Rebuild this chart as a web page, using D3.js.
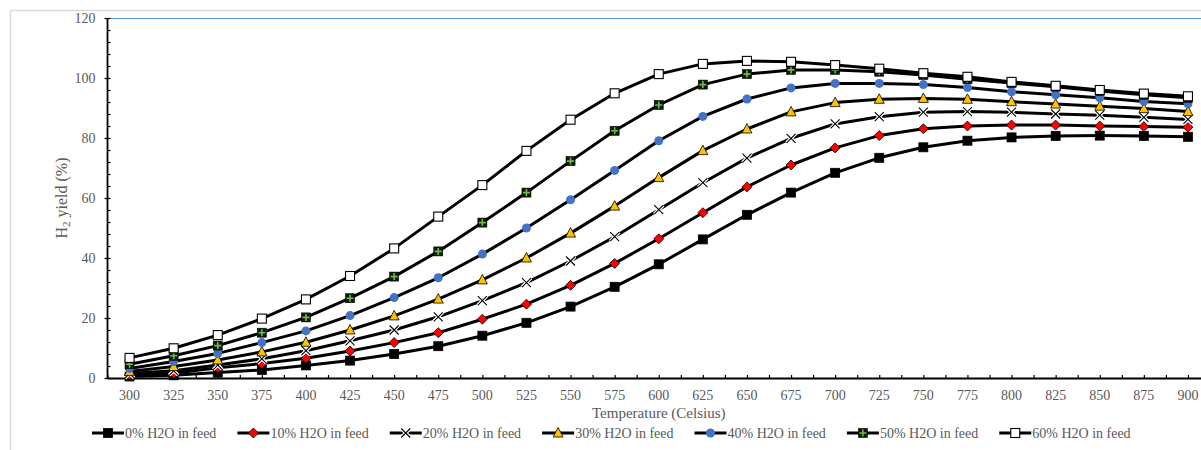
<!DOCTYPE html>
<html>
<head>
<meta charset="utf-8">
<script src="https://cdn.jsdelivr.net/npm/d3@7"></script>
<style>
  html, body { margin: 0; padding: 0; background: #fff; }
  svg { display: block; }
  text { font-family: "Liberation Serif", "Times New Roman", serif; fill: #595959; }
</style>
</head>
<body>
<svg id="chart" width="1201" height="450"></svg>
<script>
// ---------- data ----------
const categories = [300,325,350,375,400,425,450,475,500,525,550,575,600,625,650,675,700,725,750,775,800,825,850,875,900];
const seriesNames = ["0% H2O in feed","10% H2O in feed","20% H2O in feed","30% H2O in feed","40% H2O in feed","50% H2O in feed","60% H2O in feed"];
const h2o0  = [0.5,0.9,1.8,2.7,4.2,5.8,8.0,10.6,14.1,18.4,23.8,30.4,37.9,46.2,54.4,61.8,68.4,73.4,76.9,79.1,80.2,80.7,80.8,80.7,80.4];
const h2o10 = [1.0,1.6,3.4,4.8,6.6,9.0,11.8,15.1,19.6,24.6,30.9,38.2,46.4,55.1,63.7,71.0,76.7,80.8,83.1,84.0,84.3,84.3,84.0,83.8,83.6];
const h2o20 = [1.5,2.4,4.3,6.4,9.1,12.4,16.0,20.4,25.8,31.8,39.0,47.1,56.1,65.1,73.3,79.9,84.7,87.1,88.6,88.8,88.6,88.0,87.6,86.9,86.2];
const h2o30 = [2.2,3.8,6.0,8.7,11.9,16.0,20.7,26.3,32.7,40.0,48.3,57.3,66.8,75.8,83.0,88.7,91.8,92.9,93.2,92.9,92.1,91.3,90.6,89.8,88.8];
const h2o40 = [3.2,5.5,8.2,11.8,15.7,20.8,26.8,33.4,41.3,50.0,59.4,69.2,79.1,87.2,93.0,96.7,98.2,98.2,97.8,96.8,95.4,94.4,93.4,92.2,91.4];
const h2o50 = [4.6,7.4,10.8,15.1,20.2,26.6,33.8,42.2,51.8,61.8,72.3,82.4,91.0,97.8,101.3,102.7,102.7,102.1,101.0,99.6,98.3,97.1,95.7,94.4,93.4];
const h2o60 = [6.7,9.9,14.3,19.8,26.2,34.0,43.2,53.8,64.3,75.7,86.1,94.9,101.3,104.7,105.7,105.4,104.3,103.1,101.6,100.4,98.7,97.4,96.0,94.8,93.9];
const seriesValues = [h2o0,h2o10,h2o20,h2o30,h2o40,h2o50,h2o60];
const yTicks = [0,20,40,60,80,100,120];
const xTitle = "Temperature (Celsius)";

// ---------- layout ----------
const svg = d3.select("#chart");
const pLeft = 107.5, pRight = 1210, pTop = 18, pBottom = 378;

// chart border
svg.append("rect").attr("x",10.5).attr("y",10.5).attr("width",1400).attr("height",600)
  .attr("fill","none").attr("stroke","#d9d9d9").attr("stroke-width",1.5);

const x = d3.scaleBand().domain(categories).range([pLeft, pRight]).paddingInner(0).paddingOuter(0);
const y = d3.scaleLinear().domain([0,120]).range([pBottom, pTop]);

// top plot border (blue)
svg.append("line").attr("x1",pLeft).attr("x2",1201).attr("y1",pTop+0.5).attr("y2",pTop+0.5)
  .attr("stroke","#5B9BD5").attr("stroke-width",1.2);

// ---------- axes ----------
const minor = d3.range(0,121,4);
svg.append("g").attr("transform",`translate(${pLeft},0)`)
  .call(d3.axisLeft(y).tickValues(minor).tickSize(-3).tickFormat(""))
  .call(g => g.select(".domain").remove())
  .call(g => g.selectAll("line").attr("stroke","#000").attr("stroke-width",1.2));
const yAxis = svg.append("g").attr("transform",`translate(${pLeft},0)`)
  .call(d3.axisLeft(y).tickValues(yTicks).tickSize(3).tickPadding(9))
  .call(g => g.select(".domain").remove());
yAxis.selectAll("line").attr("stroke","#000").attr("stroke-width",1.2);
yAxis.selectAll("text").attr("font-size",14).attr("fill","#595959")
  .style("font-family","'Liberation Serif','Times New Roman',serif");
svg.append("line").attr("x1",pLeft).attr("x2",pLeft).attr("y1",pTop).attr("y2",pBottom+0.5)
  .attr("stroke","#000").attr("stroke-width",1.8);

// x axis ticks (boundaries + centers, inside)
const xi = d3.scaleLinear().domain([0,categories.length]).range([pLeft,pRight]);
svg.append("g").attr("transform",`translate(0,${pBottom})`)
  .call(d3.axisBottom(xi).tickValues(d3.range(0,categories.length+0.01,0.5)).tickSize(-3).tickFormat(""))
  .call(g => g.select(".domain").remove())
  .call(g => g.selectAll("line").attr("stroke","#000").attr("stroke-width",1.2));
const xAxis = svg.append("g").attr("transform",`translate(0,${pBottom})`)
  .call(d3.axisBottom(x).tickSize(0).tickPadding(12))
  .call(g => g.select(".domain").remove());
xAxis.selectAll("text").attr("font-size",14).attr("fill","#595959")
  .style("font-family","'Liberation Serif','Times New Roman',serif");
svg.append("line").attr("x1",pLeft).attr("x2",pRight).attr("y1",pBottom+0.5).attr("y2",pBottom+0.5)
  .attr("stroke","#000").attr("stroke-width",1.8);

// titles
svg.append("text").attr("x",(pLeft+pRight)/2).attr("y",418).attr("text-anchor","middle")
  .attr("font-size",15).text(xTitle);
const yl = svg.append("text").attr("transform",`translate(67,${(pTop+pBottom)/2}) rotate(-90)`)
  .attr("text-anchor","middle").attr("font-size",16);
yl.append("tspan").text("H");
yl.append("tspan").attr("font-size",11).attr("dy",3).text("2");
yl.append("tspan").attr("dy",-3).text(" yield (%)");

// ---------- markers ----------
function drawMarker(g, i) {
  if (i === 0) {
    g.append("rect").attr("x",-4.5).attr("y",-4.5).attr("width",9).attr("height",9)
      .attr("fill","#000").attr("stroke","#000").attr("stroke-width",0.8);
  } else if (i === 1) {
    g.append("path").attr("d","M0,-5L5,0L0,5L-5,0Z").attr("fill","#FF0000")
      .attr("stroke","#000").attr("stroke-width",0.8);
  } else if (i === 2) {
    g.append("path").attr("d","M-4.5,-4.5L4.5,4.5M-4.5,4.5L4.5,-4.5")
      .attr("stroke","#fff").attr("stroke-width",3.5);
    g.append("path").attr("d","M-4.5,-4.5L4.5,4.5M-4.5,4.5L4.5,-4.5")
      .attr("stroke","#000").attr("stroke-width",1.1);
  } else if (i === 3) {
    g.append("path").attr("d","M0,-5.5L5,4L-5,4Z").attr("fill","#FFC000")
      .attr("stroke","#000").attr("stroke-width",0.8);
  } else if (i === 4) {
    g.append("circle").attr("r",4.5).attr("fill","#4472C4");
  } else if (i === 5) {
    g.append("rect").attr("x",-4.5).attr("y",-4.5).attr("width",9).attr("height",9)
      .attr("fill","#0d1a0a").attr("stroke","#000").attr("stroke-width",0.6);
    g.append("path").attr("d","M-3.5,0L3.5,0M0,-3.5L0,3.5")
      .attr("stroke","#6BBE45").attr("stroke-width",1.6);
  } else {
    g.append("rect").attr("x",-4.5).attr("y",-4.5).attr("width",9).attr("height",9)
      .attr("fill","#fff").attr("stroke","#000").attr("stroke-width",1.1);
  }
}

// ---------- series ----------
const line = d3.line().x((d,j) => x(categories[j]) + x.bandwidth()/2).y(d => y(d));
const plot = svg.append("g");
seriesValues.forEach((vals, i) => {
  const sg = plot.append("g");
  sg.append("path").attr("d", line(vals)).attr("fill","none")
    .attr("stroke","#000").attr("stroke-width",3).attr("stroke-linejoin","round");
  vals.forEach((v, j) => {
    const mg = sg.append("g").attr("transform",`translate(${x(categories[j]) + x.bandwidth()/2},${y(v)})`);
    drawMarker(mg, i);
  });
});

// ---------- legend ----------
const legend = svg.append("g");
let lx = 92;
seriesNames.forEach((name, i) => {
  const g = legend.append("g").attr("transform",`translate(${lx},433)`);
  g.append("line").attr("x1",0).attr("x2",32).attr("y1",0).attr("y2",0)
    .attr("stroke","#000").attr("stroke-width",3);
  drawMarker(g.append("g").attr("transform","translate(16,0)"), i);
  const t = g.append("text").attr("x",33).attr("y",5).attr("font-size",14).text(name);
  lx += 33 + t.node().getComputedTextLength() + 21;
});
</script>
</body>
</html>
